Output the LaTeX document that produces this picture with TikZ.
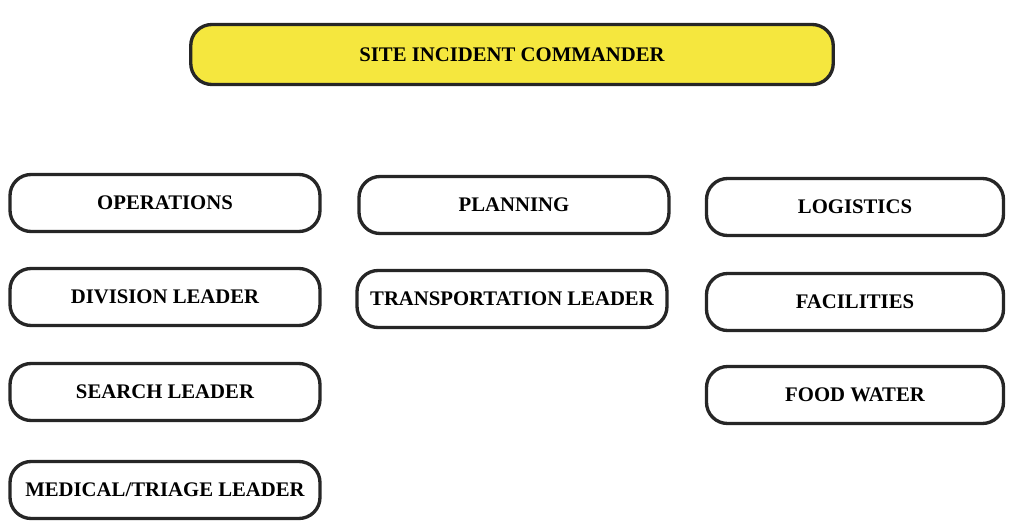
\documentclass[tikz,border=0pt]{standalone}
\usepackage{fontspec}
\setmainfont{Liberation Serif}
\usepackage{tikz}
\definecolor{cmdyellow}{RGB}{245,231,62}

\begin{document}
\begin{tikzpicture}[
  font=\bfseries\fontsize{11.8}{13}\selectfont,
  cmd/.style={draw=black!85, line width=1.9pt, rounded corners=12pt, fill=cmdyellow,
              minimum width=12.85cm, minimum height=1.2cm, inner sep=0pt},
  unit/.style={draw=black!85, line width=1.9pt, rounded corners=12pt, fill=white,
               minimum width=6.2cm, minimum height=1.14cm, inner sep=0pt}
]
\useasboundingbox (0,0) rectangle (20.2,-10.42);
% top
\node[cmd] (sic) at (10.24,-1.09) {SITE INCIDENT COMMANDER};
% left column
\node[unit] (ops) at (3.30,-4.06) {OPERATIONS};
\node[unit] (div) at (3.30,-5.94) {DIVISION LEADER};
\node[unit] (srch) at (3.30,-7.84) {SEARCH LEADER};
\node[unit] (med) at (3.30,-9.80) {MEDICAL/TRIAGE LEADER};
% middle column
\node[unit] (plan) at (10.28,-4.10) {PLANNING};
\node[unit] (trans) at (10.24,-5.98) {TRANSPORTATION LEADER};
% right column
\node[unit, minimum width=5.94cm] (log) at (17.10,-4.14) {LOGISTICS};
\node[unit, minimum width=5.94cm] (fac) at (17.10,-6.04) {FACILITIES};
\node[unit, minimum width=5.94cm] (food) at (17.10,-7.90) {FOOD WATER};
\end{tikzpicture}
\end{document}
